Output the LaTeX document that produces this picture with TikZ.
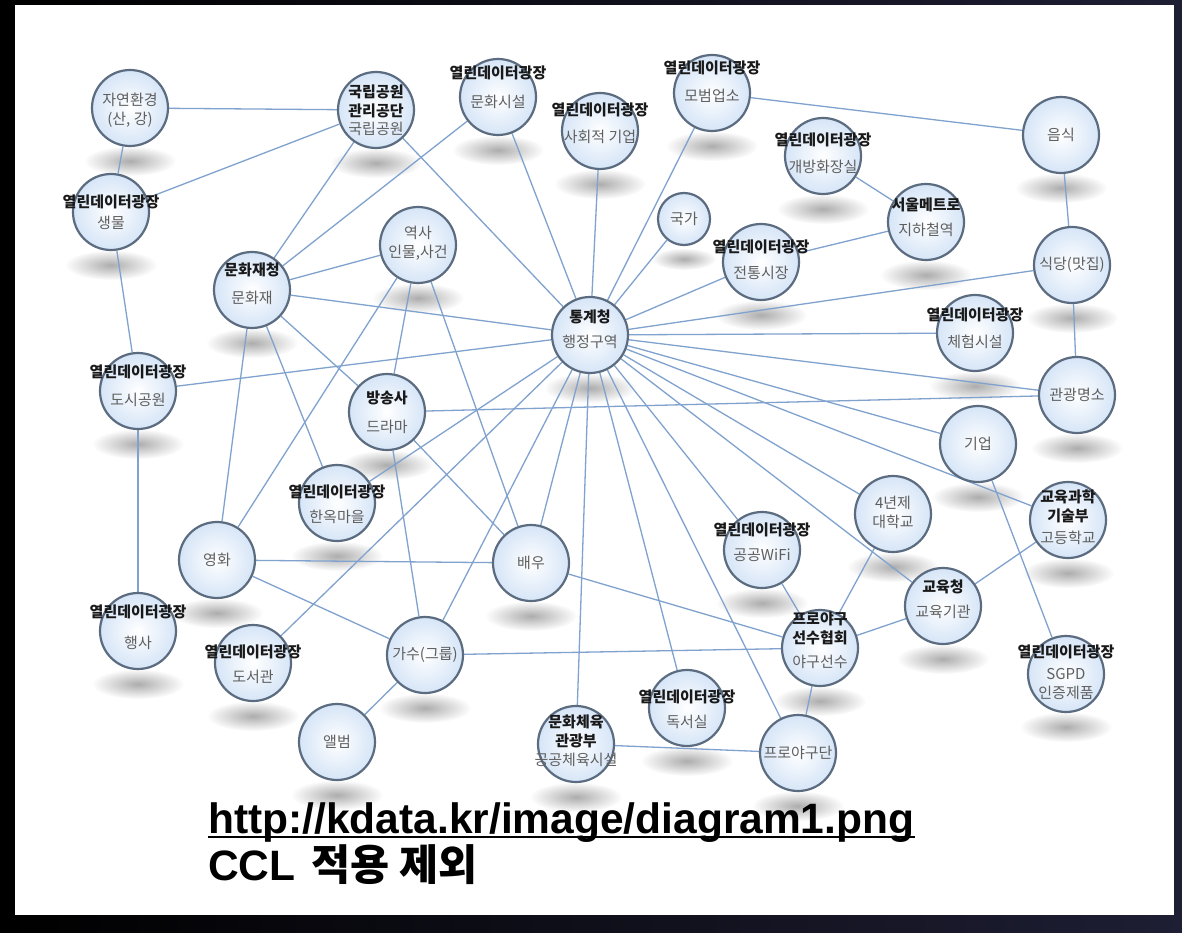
\documentclass[tikz,border=0pt]{standalone}
\usepackage{fontspec}
\newfontfamily\kr{Noto Sans CJK KR}
\newfontfamily\lat{Liberation Sans}
\usetikzlibrary{fadings}
\pgfdeclarelayer{shadowlayer}
\pgfdeclarelayer{edgelayer}
\pgfsetlayers{shadowlayer,edgelayer,main}
\definecolor{edgec}{RGB}{128,162,206}
\definecolor{rim}{RGB}{92,108,128}
\definecolor{fillo}{RGB}{214,229,247}
\definecolor{bodyc}{RGB}{95,95,95}
\definecolor{hdrc}{RGB}{25,25,25}
\definecolor{navy}{RGB}{30,30,52}
\tikzfading[name=softshadow, inner color=transparent!0, outer color=transparent!100]
\tikzset{
  bub/.style={circle, minimum size=76pt, inner sep=0pt, draw=rim, line width=2.2pt, inner color=white, outer color=fillo},
  smallbub/.style={bub, minimum size=52pt},
  hdr/.style={font=\kr\bfseries\fontsize{15}{19}\selectfont, text=hdrc, align=center, inner sep=0pt},
  bdy/.style={font=\kr\fontsize{15}{19}\selectfont, text=bodyc, align=center, inner sep=0pt},
  link/.style={draw=edgec, line width=1.3pt},
  shad/.style={fill=black!32, path fading=softshadow}
}
\begin{document}
\begin{tikzpicture}[x=1pt,y=-1pt]
\useasboundingbox (0,0) rectangle (1182,933);
\begin{pgfonlayer}{shadowlayer}
\shade[left color=black, right color=navy] (0,0) rectangle (1182,933);
\fill[white] (15,5) rectangle (1174,915);
\end{pgfonlayer}

% nodes
\node[bub] (jy) at (130,108) {};
\node[bdy] (jy-b) at (130,110) {자연환경\\(산, 강)};

\node[bub] (gr) at (376,110) {};
\node[hdr] (gr-h) at (376,101) {국립공원\\관리공단};
\node[bdy] (gr-b) at (376,129) {국립공원};

\node[bub] (sm) at (111,212) {};
\node[hdr] (sm-h) at (111,202) {열린데이터광장};
\node[bdy] (sm-b) at (111,223) {생물};

\node[bub] (mhs) at (498,97) {};
\node[hdr] (mhs-h) at (498,73) {열린데이터광장};
\node[bdy] (mhs-b) at (498,102) {문화시설};

\node[bub] (sh) at (600,131) {};
\node[hdr] (sh-h) at (600,110) {열린데이터광장};
\node[bdy] (sh-b) at (600,137) {사회적 기업};

\node[bub] (mb) at (712,93) {};
\node[hdr] (mb-h) at (712,68) {열린데이터광장};
\node[bdy] (mb-b) at (712,96) {모범업소};

\node[bub] (gb) at (823,156) {};
\node[hdr] (gb-h) at (823,140) {열린데이터광장};
\node[bdy] (gb-b) at (823,167) {개방화장실};

\node[bub] (mt) at (926,222) {};
\node[hdr] (mt-h) at (926,205) {서울메트로};
\node[bdy] (mt-b) at (926,230) {지하철역};

\node[bub] (es) at (1061,135) {};
\node[bdy] (es-b) at (1061,135) {음식};

\node[smallbub] (gg) at (684,219) {};
\node[bdy] (gg-b) at (684,219) {국가};

\node[bub] (jt) at (761,262) {};
\node[hdr] (jt-h) at (761,247) {열린데이터광장};
\node[bdy] (jt-b) at (761,273) {전통시장};

\node[bub] (sd) at (1072,265) {};
\node[bdy] (sd-b) at (1072,265) {식당(맛집)};

\node[bub] (ys) at (418,245) {};
\node[bdy] (ys-b) at (418,243) {역사\\인물,사건};

\node[bub] (mj) at (252,290) {};
\node[hdr] (mj-h) at (252,270) {문화재청};
\node[bdy] (mj-b) at (252,298) {문화재};

\node[bub] (tg) at (590,335) {};
\node[hdr] (tg-h) at (590,317) {통계청};
\node[bdy] (tg-b) at (590,342) {행정구역};

\node[bub] (ch) at (975,333) {};
\node[hdr] (ch-h) at (975,315) {열린데이터광장};
\node[bdy] (ch-b) at (975,342) {체험시설};

\node[bub] (dg) at (138,391) {};
\node[hdr] (dg-h) at (138,372) {열린데이터광장};
\node[bdy] (dg-b) at (138,400) {도시공원};

\node[bub] (bs) at (387,412) {};
\node[hdr] (bs-h) at (387,398) {방송사};
\node[bdy] (bs-b) at (387,427) {드라마};

\node[bub] (gw) at (1077,395) {};
\node[bdy] (gw-b) at (1077,395) {관광명소};

\node[bub] (ge) at (978,444) {};
\node[bdy] (ge-b) at (978,444) {기업};

\node[bub] (ho) at (337,503) {};
\node[hdr] (ho-h) at (337,492) {열린데이터광장};
\node[bdy] (ho-b) at (337,517) {한옥마을};

\node[bub] (un) at (893,514) {};
\node[bdy] (un-b) at (893,512) {4년제\\대학교};

\node[bub] (gk) at (1068,520) {};
\node[hdr] (gk-h) at (1068,506) {교육과학\\기술부};
\node[bdy] (gk-b) at (1068,538) {고등학교};

\node[bub] (yh) at (217,560) {};
\node[bdy] (yh-b) at (217,560) {영화};

\node[bub] (bu) at (531,563) {};
\node[bdy] (bu-b) at (531,563) {배우};

\node[bub] (wf) at (762,550) {};
\node[hdr] (wf-h) at (762,530) {열린데이터광장};
\node[bdy] (wf-b) at (762,555) {공공WiFi};

\node[bub] (gc) at (943,606) {};
\node[hdr] (gc-h) at (943,587) {교육청};
\node[bdy] (gc-b) at (943,612) {교육기관};

\node[bub] (hs) at (138,631) {};
\node[hdr] (hs-h) at (138,612) {열린데이터광장};
\node[bdy] (hs-b) at (138,643) {행사};

\node[bub] (ds) at (253,663) {};
\node[hdr] (ds-h) at (253,652) {열린데이터광장};
\node[bdy] (ds-b) at (253,677) {도서관};

\node[bub] (gs) at (425,655) {};
\node[bdy] (gs-b) at (425,655) {가수(그룹)};

\node[bub] (hp) at (820,648) {};
\node[hdr] (hp-h) at (820,628) {프로야구\\선수협회};
\node[bdy] (hp-b) at (820,662) {야구선수};

\node[bub] (sg) at (1066,674) {};
\node[hdr] (sg-h) at (1066,652) {열린데이터광장};
\node[bdy] (sg-b) at (1066,684) {SGPD\\인증제품};

\node[bub] (ab) at (337,742) {};
\node[bdy] (ab-b) at (337,742) {앨범};

\node[bub] (mc) at (576,744) {};
\node[hdr] (mc-h) at (576,731) {문화체육\\관광부};
\node[bdy] (mc-b) at (576,760) {공공체육시설};

\node[bub] (dk) at (687,708) {};
\node[hdr] (dk-h) at (687,697) {열린데이터광장};
\node[bdy] (dk-b) at (687,722) {독서실};

\node[bub] (yg) at (798,753) {};
\node[bdy] (yg-b) at (798,753) {프로야구단};

% footnote
\node[anchor=base west, inner sep=0pt, font=\lat\bfseries\fontsize{42.5}{48}\selectfont] (url) at (208,833) {http://kdata.kr/image/diagram1.png};
\draw[line width=2.2pt] ([yshift=-4pt]url.base west) -- ([yshift=-4pt]url.base east);
\node[anchor=base west, inner sep=0pt, font=\bfseries\fontsize{42.5}{48}\selectfont] (ccl) at (208,880) {{\lat CCL} {\kr 적용 제외}};

% shadows
\begin{pgfonlayer}{shadowlayer}
\foreach \n in {jy,gr,sm,mhs,sh,mb,gb,mt,es,jt,sd,ys,mj,tg,ch,dg,bs,gw,ge,ho,un,gk,yh,bu,wf,gc,hs,ds,gs,hp,sg,ab,mc,dk,yg}
  \fill[shad] ([yshift=-53pt]\n.center) ellipse (46pt and 15pt);
\fill[shad] ([yshift=-40pt]gg.center) ellipse (32pt and 11pt);
\end{pgfonlayer}

% edges
\begin{pgfonlayer}{edgelayer}
\foreach \a/\b in {tg/mhs,tg/sh,tg/mb,tg/gg,tg/jt,tg/gr,tg/mj,tg/dg,tg/sd,tg/ch,tg/gw,tg/ge,tg/gk,tg/un,tg/gc,tg/wf,tg/yg,tg/dk,tg/mc,tg/bu,tg/gs,tg/ds,tg/ho,
  jy/gr,jy/sm,sm/gr,sm/dg,dg/hs,gr/mj,mhs/mj,mj/ys,mj/bs,mj/ho,mj/yh,ys/yh,ys/bs,ys/bu,bs/gs,bs/bu,bs/gw,yh/bu,yh/gs,gs/ab,gs/hp,bu/hp,mc/yg,mb/es,es/sd,sd/gw,gb/mt,mt/jt,ge/sg,gk/gc,un/hp,wf/hp,hp/gc,hp/yg}
  \draw[link] (\a) -- (\b);
\end{pgfonlayer}
\end{tikzpicture}
\end{document}
